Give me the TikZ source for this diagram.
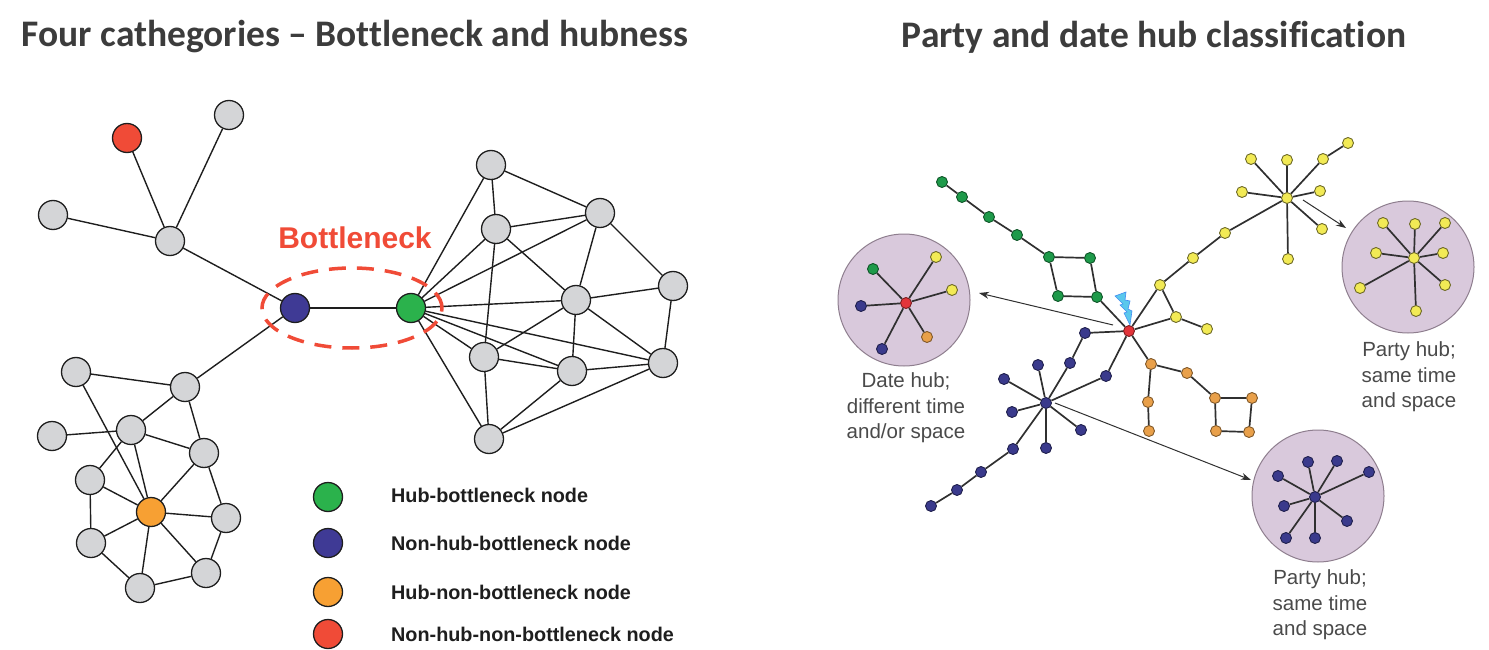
\documentclass[tikz,border=0pt]{standalone}
\usepackage{fontspec}
\setmainfont{Liberation Sans}
\newfontfamily\titlefont[Ligatures=NoCommon]{Carlito}
\usetikzlibrary{arrows.meta,shapes.geometric}
\definecolor{ttl}{HTML}{3C3C3C}
\definecolor{lgray}{HTML}{D4D5D7}
\definecolor{lred}{HTML}{F04B37}
\definecolor{lgreen}{HTML}{2BB24C}
\definecolor{lblue}{HTML}{3F3A95}
\definecolor{lorange}{HTML}{F7A033}
\definecolor{ledge}{HTML}{1E1E1E}
\definecolor{rgreen}{HTML}{1E9A4A}
\definecolor{ryellow}{HTML}{F2EA55}
\definecolor{rorange}{HTML}{E9A04A}
\definecolor{rblue}{HTML}{3A3A8C}
\definecolor{rred}{HTML}{E2343A}
\definecolor{lav}{HTML}{D9C9DC}
\definecolor{lavline}{HTML}{8E7E8E}
\definecolor{redge}{HTML}{303030}
\definecolor{rtext}{HTML}{4A4A4A}
\definecolor{bolt}{HTML}{5BC8EC}
\begin{document}
\begin{tikzpicture}[x=1pt,y=-1pt,
  ttlstyle/.style={font=\titlefont\bfseries\fontsize{37.5}{40}\selectfont, text=ttl, inner sep=0},
  lnode/.style={circle, minimum size=29pt, inner sep=0, draw=ledge, line width=1.3pt, fill=lgray},
  ledgestyle/.style={draw=ledge, line width=1.4pt},
  legtext/.style={anchor=west, font=\bfseries\fontsize{19.8}{22}\selectfont, text=ledge, inner sep=0},
  rnode/.style={circle, minimum size=11pt, inner sep=0, line width=0.9pt},
  rg/.style={rnode, fill=rgreen, draw=rgreen!55!black},
  ry/.style={rnode, fill=ryellow, draw=ryellow!45!black},
  ro/.style={rnode, fill=rorange, draw=rorange!55!black},
  rb/.style={rnode, fill=rblue, draw=rblue!55!black},
  rr/.style={rnode, fill=rred, draw=rred!55!black},
  redgestyle/.style={draw=redge, line width=1.7pt},
  hubcirc/.style={circle, inner sep=0, minimum size=132pt, fill=lav, draw=lavline, line width=1pt},
  rlabel/.style={align=center, font=\fontsize{20.5}{25.5}\selectfont, text=rtext, inner sep=0},
  arr/.style={draw=redge, line width=1pt, -{Stealth[length=10pt,width=7pt]}}
]
\useasboundingbox (0,0) rectangle (1489,650);

% titles
\node[ttlstyle] (t1) at (355,37) {Four cathegories – Bottleneck and hubness};
\node[ttlstyle] (t2) at (1154,37) {Party and date hub classification};

% ---------- left panel ----------
\foreach \n/\x/\y in {A/170/241, T/229/115, L/53/215,
   B1/76/372, B2/185/387, B3/52/436, B4/131/430, B5/204/453, B6/90/480, B7/226/518, B8/91/543, B9/206/573, B10/140/588,
   C1/491/165, C2/496/229, C3/600/213, C4/673/286, C5/576/300, C6/484/357, C7/572/371, C8/663/363, C9/489/439}
  \node[lnode] (\n) at (\x,\y) {};
\node[lnode, fill=lred] (R) at (127,138) {};
\node[lnode, fill=lblue] (NB) at (295,308) {};
\node[lnode, fill=lgreen] (HB) at (411,308) {};
\node[lnode, fill=lorange] (O) at (151,512) {};

\foreach \a/\b in {A/R, A/T, A/L, A/NB, NB/HB, NB/B2,
   B1/B2, B1/O, B2/B4, B2/B5, B3/B4, B4/B5, B4/O, B4/B6, B5/O, B5/B7, B6/O, B6/B8, B7/O, B7/B9, B8/O, B8/B10, O/B10, O/B9, B9/B10,
   HB/C1, HB/C2, HB/C3, HB/C5, HB/C6, HB/C7, HB/C8, HB/C9, C1/C2, C1/C3, C2/C3, C2/C5, C2/C6, C3/C5, C3/C4, C5/C4, C5/C6, C5/C7, C5/C8, C6/C7, C6/C9, C7/C8, C7/C9, C8/C9, C4/C8}
  \draw[ledgestyle] (\a) -- (\b);

\node[ellipse, draw=lred, line width=3.5pt, dash pattern=on 17pt off 11pt, minimum width=180pt, minimum height=80pt, inner sep=0] (bneck) at (352,308) {};
\node[font=\bfseries\fontsize{30}{32}\selectfont, text=lred, inner sep=0] (bnlabel) at (355,238) {Bottleneck};

% legend
\node[lnode, fill=lgreen] (lg1) at (328,497) {};
\node[lnode, fill=lblue] (lg2) at (328,543) {};
\node[lnode, fill=lorange] (lg3) at (328,592) {};
\node[lnode, fill=lred] (lg4) at (328,634) {};
\node[legtext] (lt1) at (391,495) {Hub-bottleneck node};
\node[legtext] (lt2) at (391,543) {Non-hub-bottleneck node};
\node[legtext] (lt3) at (391,592) {Hub-non-bottleneck node};
\node[legtext] (lt4) at (391,634) {Non-hub-non-bottleneck node};

% ---------- right panel ----------
% hub circles
\node[hubcirc] (dc) at (904,300) {};
\node[hubcirc] (pc1) at (1408,267) {};
\node[hubcirc] (pc2) at (1318,496) {};

% arrows
\coordinate (a1s) at (1113,325);
\coordinate (a1e) at (979,293);
\coordinate (a2s) at (1055,403);
\coordinate (a2e) at (1251,480);
\coordinate (a3s) at (1303,200);
\coordinate (a3e) at (1346,228);
\draw[arr] (a1s) -- (a1e);
\draw[arr] (a2s) -- (a2e);
\draw[arr] (a3s) -- (a3e);

% main network nodes
\foreach \n/\x/\y in {g1/942/182, g2/962/197, g3/989/217, g4/1017/235, g5/1049/257, g6/1090/258, g7/1058/296, g8/1097/297}
  \node[rg] (\n) at (\x,\y) {};
\foreach \n/\x/\y in {y1/1160/285, y2/1176/317, y3/1207/329, y4/1193/258, y5/1225/233, yh/1287/198,
   yl1/1251/159, yl2/1287/160, yl3/1323/159, yl4/1348/143, yl5/1242/192, yl6/1320/191, yl7/1322/229, yl8/1288/259}
  \node[ry] (\n) at (\x,\y) {};
\foreach \n/\x/\y in {ba/1085/333, bb/1070/363, bc/1106/376, bh/1046/403, bl1/1038/365, bl2/1004/379, bl3/1012/412, bl4/1081/430, bl5/1046/448,
   bch1/1013/449, bch2/981/472, bch3/957/490, bch4/931/506}
  \node[rb] (\n) at (\x,\y) {};
\foreach \n/\x/\y in {o1/1151/364, o2/1187/373, o3/1215/398, o4/1252/398, o5/1216/431, o6/1249/432, o7/1148/402, o8/1149/431}
  \node[ro] (\n) at (\x,\y) {};
\node[rr] (rh) at (1129,331) {};

\foreach \a/\b in {g1/g2, g2/g3, g3/g4, g4/g5, g5/g6, g5/g7, g7/g8, g6/g8, g8/rh,
   rh/y1, rh/y2, y1/y2, y2/y3, y1/y4, y4/y5, y5/yh, yh/yl1, yh/yl2, yh/yl3, yl3/yl4, yh/yl5, yh/yl6, yh/yl7, yh/yl8,
   rh/ba, ba/bb, bb/bh, rh/bc, bc/bh, bh/bl1, bh/bl2, bh/bl3, bh/bl4, bh/bl5, bh/bch1, bch1/bch2, bch2/bch3, bch3/bch4,
   rh/o1, o1/o2, o2/o3, o3/o4, o3/o5, o5/o6, o4/o6, o1/o7, o7/o8}
  \draw[redgestyle] (\a) -- (\b);

% lightning bolt
\filldraw[fill=bolt, draw=bolt!70!blue, line width=0.6pt]
  (1115,296) -- (1126,292) -- (1125,300) -- (1130,301) -- (1128,309) -- (1132,311) -- (1130,325)
  -- (1124,313) -- (1127,312) -- (1120,305) -- (1123,304) -- cycle;

% date hub interior
\node[rr] (dr) at (906,303) {};
\node[rg] (dg) at (873,269) {};
\node[ry] (dy1) at (936,257) {};
\node[ry] (dy2) at (952,290) {};
\node[ro] (dor) at (927,337) {};
\node[rb] (db1) at (861,306) {};
\node[rb] (db2) at (882,349) {};
\foreach \b in {dg, dy1, dy2, dor, db1, db2}
  \draw[redgestyle] (dr) -- (\b);

% party hub 1 interior
\node[ry] (p1h) at (1414,258) {};
\foreach \n/\x/\y in {p1a/1383/223, p1b/1415/224, p1c/1445/223, p1d/1376/253, p1e/1443/253, p1f/1360/288, p1g/1445/285, p1i/1416/311}
  {\node[ry] (\n) at (\x,\y) {}; \draw[redgestyle] (p1h) -- (\n);}

% party hub 2 interior
\node[rb] (p2h) at (1315,497) {};
\foreach \n/\x/\y in {p2a/1278/476, p2b/1308/462, p2c/1337/461, p2d/1369/472, p2e/1284/506, p2f/1347/521, p2g/1286/538, p2i/1315/538}
  {\node[rb] (\n) at (\x,\y) {}; \draw[redgestyle] (p2h) -- (\n);}

% labels
\node[rlabel] (dlab) at (906,408) {Date hub;\\different time\\and/or space};
\node[rlabel] (p1lab) at (1409,377) {Party hub;\\same time\\and space};
\node[rlabel] (p2lab) at (1320,605) {Party hub;\\same time\\and space};
\end{tikzpicture}
\end{document}
